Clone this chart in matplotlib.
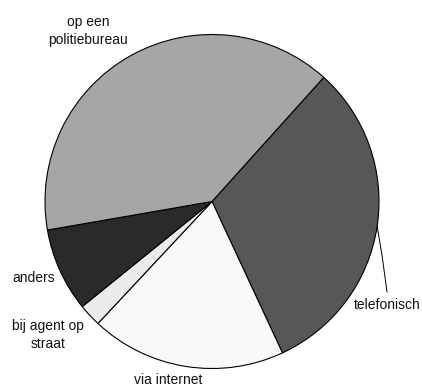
import numpy as np
import matplotlib.pyplot as plt

plt.rcParams['font.family'] = ['Liberation Sans', 'DejaVu Sans']

# data (percentages), clockwise from the top-right
labels = ['telefonisch', 'via internet', 'bij agent op\nstraat', 'anders', 'op een\npolitiebureau']
values = [31.4, 18.9, 2.2, 8.1, 39.4]
colors = ['#575757', '#f9f9f9', '#ebebeb', '#2a2a2a', '#a6a6a6']

W, H = 422, 388
fig = plt.figure(figsize=(W / 100, H / 100), dpi=100)
ax = fig.add_axes([0, 0, 1, 1])

cx, cy, r = 212, H - 201.5, 167
wedges, _ = ax.pie(values, colors=colors, startangle=48, counterclock=False,
                   center=(cx, cy), radius=r, frame=True,
                   wedgeprops=dict(edgecolor='black', linewidth=0.8))
ax.set_xlim(0, W)
ax.set_ylim(0, H)
ax.set_aspect('equal')
ax.axis('off')

# label positions (pixel coords, y from top)
label_pos = [(387, 305), (168, 380), (48, 335), (34, 278), (88, 31)]
for lab, (x, y) in zip(labels, label_pos):
    ax.text(x, H - y, lab, ha='center', va='center', fontsize=10,
            linespacing=1.35, color='#111111')

# leader line for telefonisch
ang = np.deg2rad(-8.5)
x0, y0 = cx + r * np.cos(ang), cy + r * np.sin(ang)
ax.plot([x0, x0 + 5, 387], [y0, y0 - 30, H - 292], color='black', linewidth=0.7)

fig.savefig('out.png', dpi=100)
